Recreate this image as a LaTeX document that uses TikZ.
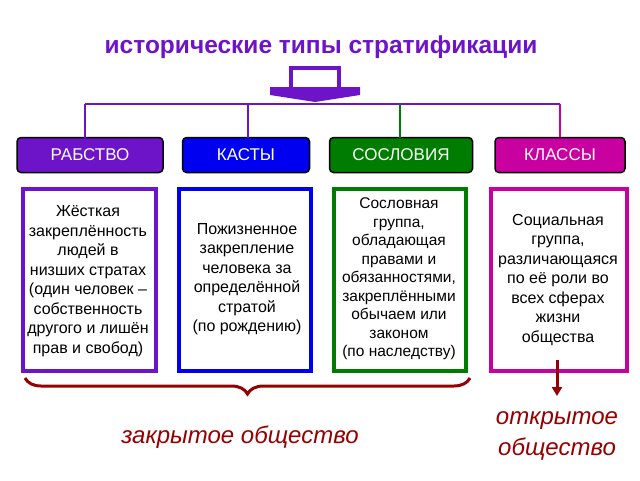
\documentclass[tikz,border=0pt]{standalone}
\usepackage{fontspec}
\setmainfont{Liberation Sans}
\usetikzlibrary{decorations.pathreplacing,arrows.meta}
\definecolor{cPurple}{RGB}{110,20,200}
\definecolor{cBlue}{RGB}{0,0,240}
\definecolor{cGreen}{RGB}{0,125,0}
\definecolor{cMag}{RGB}{200,0,160}
\definecolor{cRed}{RGB}{150,0,0}
\tikzset{
  head/.style={draw=black,line width=1.5pt,rounded corners=4pt,minimum height=35pt,
    text=white,font=\fontsize{17}{17}\selectfont,inner sep=0pt},
  info/.style={draw,line width=3.5pt,fill=white,minimum height=182pt,inner sep=0pt},
  txt/.style={align=center,font=\fontsize{16}{19.5}\selectfont},
  tree/.style={line width=1.5pt},
  note/.style={text=cRed,font=\itshape\fontsize{24}{31}\selectfont,align=center}
}
\begin{document}
\begin{tikzpicture}[x=1pt,y=-1pt]
  \useasboundingbox (0,0) rectangle (640,480);
  % title
  \node[text=cPurple,font=\bfseries\fontsize{24.5}{24.5}\selectfont] (title) at (321,47) {исторические типы стратификации};
  % arrow
  \draw[cPurple,line width=4pt] (291,90) -- (291,68) -- (339,68) -- (339,90);
  \fill[cPurple] (270,87) -- (360,87) -- (360,95) -- (315,102) -- (270,95) -- cycle;
  % headers
  \node[head,fill=cPurple,minimum width=146pt] (h1) at (90,155) {РАБСТВО};
  \node[head,fill=cBlue,minimum width=127pt] (h2) at (246,155) {КАСТЫ};
  \node[head,fill=cGreen,minimum width=143pt] (h3) at (401,155) {СОСЛОВИЯ};
  \node[head,fill=cMag,minimum width=130pt] (h4) at (560,155) {КЛАССЫ};
  % tree
  \coordinate (t1) at (85,104);
  \coordinate (t4) at (560,104);
  \draw[tree,cPurple] (t1) -- (t4);
  \draw[tree,cPurple] (t1) -- (85,138);
  \draw[tree,cPurple] (248,104) -- (248,138);
  \draw[tree,cGreen] (400,104) -- (400,138);
  \draw[tree,cMag] (t4) -- (h4.north);
  % boxes
  \node[info,draw=cPurple,minimum width=133pt] (b1) at (89.5,280) {};
  \node[txt] at (88,281) {Жёсткая\\закреплённость\\людей в\\ низших стратах\\(один человек –\\собственность\\другого и лишён\\ прав и свобод)};
  \node[info,draw=cBlue,minimum width=132pt] (b2) at (245,280) {};
  \node[txt] at (247,279) {Пожизненное\\ закрепление\\человека за\\определённой\\стратой\\(по рождению)};
  \node[info,draw=cGreen,minimum width=132pt] (b3) at (400,280) {};
  \node[txt,font=\fontsize{15.5}{18.5}\selectfont] at (399,279) {Сословная\\группа,\\ обладающая\\правами и\\обязанностями,\\закреплёнными\\обычаем или\\законом\\ (по наследству)};
  \node[info,draw=cMag,minimum width=136pt] (b4) at (559,280) {};
  \node[txt] at (558,280) {Социальная\\группа,\\различающаяся\\по её роли во\\всех сферах\\ жизни\\ общества};
  % bottom
  \draw[cRed,line width=3pt,decorate,decoration={brace,amplitude=16pt,mirror}] (25,378) -- (470,378);
  \node[note] (closed) at (240,437) {закрытое общество};
  \coordinate (a0) at (557,360);
  \node[note] (open) at (557,436) {открытое\\общество};
  \draw[cRed,line width=3pt,-{Triangle[length=9pt,width=10pt]}] (a0) -- (557,396);
\end{tikzpicture}
\end{document}
